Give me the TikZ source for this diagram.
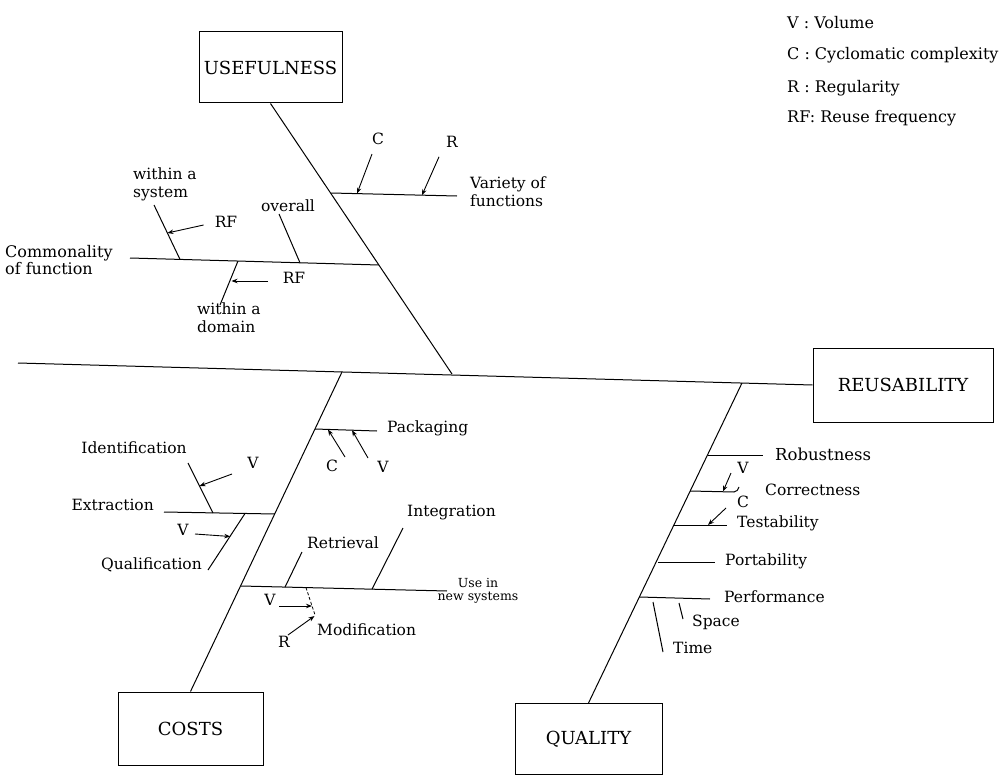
\documentclass[tikz,border=0pt]{standalone}
\usepackage{fontspec}
\setmainfont{DejaVu Serif}
\usetikzlibrary{arrows.meta,calc}
\begin{document}
\begin{tikzpicture}[x=1pt,y=-1pt,
  bone/.style={line width=1pt},
  arr/.style={line width=0.9pt,-{Stealth[length=6pt,width=4.5pt]}},
  lbl/.style={font=\fontsize{15.5}{17}\selectfont,inner sep=1pt},
  two/.style={lbl,align=left,font=\fontsize{15.5}{18}\selectfont},
  leg/.style={font=\fontsize{16}{18}\selectfont,inner sep=1pt,anchor=west},
  box/.style={draw,line width=1pt,font=\fontsize{18}{20}\selectfont,inner sep=0pt}
]
\useasboundingbox (0,0) rectangle (1005,776);

% boxes
\node[box,minimum width=143pt,minimum height=71pt] (U) at (270.5,67.5) {USEFULNESS};
\node[box,minimum width=180pt,minimum height=74pt] (R) at (903,385) {REUSABILITY};
\node[box,minimum width=145pt,minimum height=73pt] (C) at (190.5,728.5) {COSTS};
\node[box,minimum width=147pt,minimum height=71pt] (Q) at (588.5,739) {QUALITY};

% main line and spines
\coordinate (m0) at (18,363);
\coordinate (ju) at (452,374);
\coordinate (jc) at (342,372);
\coordinate (jq) at (742,383);
\draw[bone] (m0) -- (R.west);
\draw[bone] (U.south) -- (ju);
\draw[bone] (jc) -- (C.north);
\draw[bone] (jq) -- (Q.north);

% ---------- USEFULNESS ----------
\coordinate (v0) at (331,193);
\coordinate (v1) at (457,196);
\draw[bone] (v0) -- (v1);
\node[two,anchor=west] (tvar) at (469,192) {Variety of\\functions};
\node[lbl] (tC1) at (378,139) {C};
\node[lbl] (tR1) at (452,142) {R};
\coordinate (aC1) at (357,193.6);
\coordinate (aR1) at (422,195.2);
\draw[arr] ($(tC1.south)+(-6,8)$) coordinate (sC1) -- (aC1);
\draw[arr] ($(tR1.south)+(-13,8)$) coordinate (sR1) -- (aR1);

\coordinate (c0) at (130,258);
\coordinate (c1) at (379,265);
\draw[bone] (c0) -- (c1);
\node[two,anchor=west,font=\fontsize{16}{17}\selectfont] (tcom) at (4,260) {Commonality\\of function};

\coordinate (ws0) at (154,205);
\coordinate (ws1) at (180,259.4);
\draw[bone] (ws0) -- (ws1);
\node[two,anchor=west] (tws) at (132,184) {within a\\system};
\node[lbl] (tRF1) at (226,222) {RF};
\coordinate (aRF1) at (167.4,233);
\draw[arr] (tRF1.west) ++(-10,3) coordinate (sRF1) -- (aRF1);

\coordinate (ov0) at (279,214);
\coordinate (ov1) at (300,262.8);
\draw[bone] (ov0) -- (ov1);
\node[lbl] (tov) at (288,206) {overall};

\coordinate (wd0) at (238,261);
\coordinate (wd1) at (220,305);
\draw[bone] (wd0) -- (wd1);
\node[two,anchor=west] (twd) at (196,318) {within a\\domain};
\node[lbl] (tRF2) at (294,278) {RF};
\coordinate (aRF2) at (231.5,281);
\coordinate (sRF2) at (268,281);
\draw[arr] (sRF2) -- (aRF2);

% ---------- COSTS ----------
\coordinate (p0) at (315,429);
\coordinate (p1) at (377,431);
\draw[bone] (p0) -- (p1);
\node[lbl,anchor=west] (tpack) at (386,428) {Packaging};
\node[lbl] (tC2) at (332,466) {C};
\node[lbl] (tV2) at (383,467) {V};
\coordinate (sC2) at (345,457);
\coordinate (aC2) at (328,429.5);
\coordinate (sV2) at (368,458);
\coordinate (aV2) at (352,430.2);
\draw[arr] (sC2) -- (aC2);
\draw[arr] (sV2) -- (aV2);

\coordinate (e0) at (164,512);
\coordinate (e1) at (275,514);
\draw[bone] (e0) -- (e1);
\node[lbl,anchor=east] (text) at (155,505) {Extraction};

\coordinate (id0) at (188,463);
\coordinate (id1) at (213,512.9);
\draw[bone] (id0) -- (id1);
\node[lbl] (tid) at (134,448) {Identification};
\node[lbl] (tV3) at (253,463) {V};
\coordinate (sV3) at (232,474);
\coordinate (aV3) at (199.5,486);
\draw[arr] (sV3) -- (aV3);

\coordinate (ql0) at (245,513.5);
\coordinate (ql1) at (208,570);
\draw[bone] (ql0) -- (ql1);
\node[lbl,anchor=east] (tql) at (203,565) {Qualification};
\node[lbl] (tV4) at (183,530) {V};
\coordinate (sV4) at (195,534);
\coordinate (aV4) at (230.3,536.5);
\draw[arr] (sV4) -- (aV4);

\coordinate (un0) at (241,586);
\coordinate (un1) at (447,591);
\draw[bone] (un0) -- (un1);
\node[align=center,inner sep=0pt,font=\fontsize{12.5}{13}\selectfont] (tun) at (478,591) {Use in\\new systems};

\coordinate (rt0) at (302,552);
\coordinate (rt1) at (285,587.1);
\draw[bone] (rt0) -- (rt1);
\node[lbl] (trt) at (343,543) {Retrieval};

\coordinate (in0) at (403,528);
\coordinate (in1) at (372,589.2);
\draw[bone] (in0) -- (in1);
\node[lbl,anchor=west] (tin) at (406,513) {Integration};

\coordinate (md0) at (306,587.6);
\coordinate (md1) at (315,615);
\draw[line width=0.8pt,dash pattern=on 3pt off 2pt] (md0) -- (md1);
\node[lbl,anchor=west] (tmd) at (316,630) {Modification};
\node[lbl] (tV5) at (270,600) {V};
\node[lbl] (tR5) at (284,642) {R};
\coordinate (sV5) at (279,606);
\coordinate (aV5) at (312,606);
\coordinate (sR5) at (288,635);
\coordinate (aR5) at (314.5,616);
\draw[arr] (sV5) -- (aV5);
\draw[arr] (sR5) -- (aR5);

% ---------- QUALITY ----------
\coordinate (rb0) at (707.5,455);
\coordinate (rb1) at (763,455);
\draw[bone] (rb0) -- (rb1);
\node[lbl,anchor=west,font=\fontsize{16.5}{18}\selectfont] (trb) at (774,454) {Robustness};

\coordinate (co0) at (690,491);
\coordinate (co1) at (734,492);
\coordinate (co2) at (739,487);
\draw[bone] (co0) -- (co1) to[out=0,in=-110] (co2);
\node[lbl,anchor=west] (tco) at (764,490) {Correctness};
\node[lbl] (tV6) at (743,468) {V};
\coordinate (sV6) at (731,473);
\coordinate (aV6) at (723,491.5);
\draw[arr] (sV6) -- (aV6);
\node[lbl] (tC6) at (743,502) {C};

\coordinate (ts0) at (674,525);
\coordinate (ts1) at (727,525);
\draw[bone] (ts0) -- (ts1);
\node[lbl,anchor=west] (tts) at (736,523) {Testability};
\coordinate (sC6) at (726,508);
\coordinate (aC6) at (708,525);
\draw[arr] (sC6) -- (aC6);

\coordinate (pt0) at (658,562);
\coordinate (pt1) at (715,562);
\draw[bone] (pt0) -- (pt1);
\node[lbl,anchor=west] (tpt) at (724,561) {Portability};

\coordinate (pf0) at (639.3,597);
\coordinate (pf1) at (710,599);
\draw[bone] (pf0) -- (pf1);
\node[lbl,anchor=west] (tpf) at (723,597) {Performance};

\coordinate (sp0) at (679,603);
\coordinate (sp1) at (683,619);
\draw[bone] (sp0) -- (sp1);
\node[lbl,anchor=west] (tsp) at (691,622) {Space};

\coordinate (tm0) at (653,602);
\coordinate (tm1) at (663,652);
\draw[bone] (tm0) -- (tm1);
\node[lbl,anchor=west] (ttm) at (672,648) {Time};

% legend
\node[leg] (l1) at (786,23) {V : Volume};
\node[leg] (l2) at (786,55) {C : Cyclomatic complexity};
\node[leg] (l3) at (786,88) {R : Regularity};
\node[leg] (l4) at (786,118) {RF: Reuse frequency};
\end{tikzpicture}
\end{document}
